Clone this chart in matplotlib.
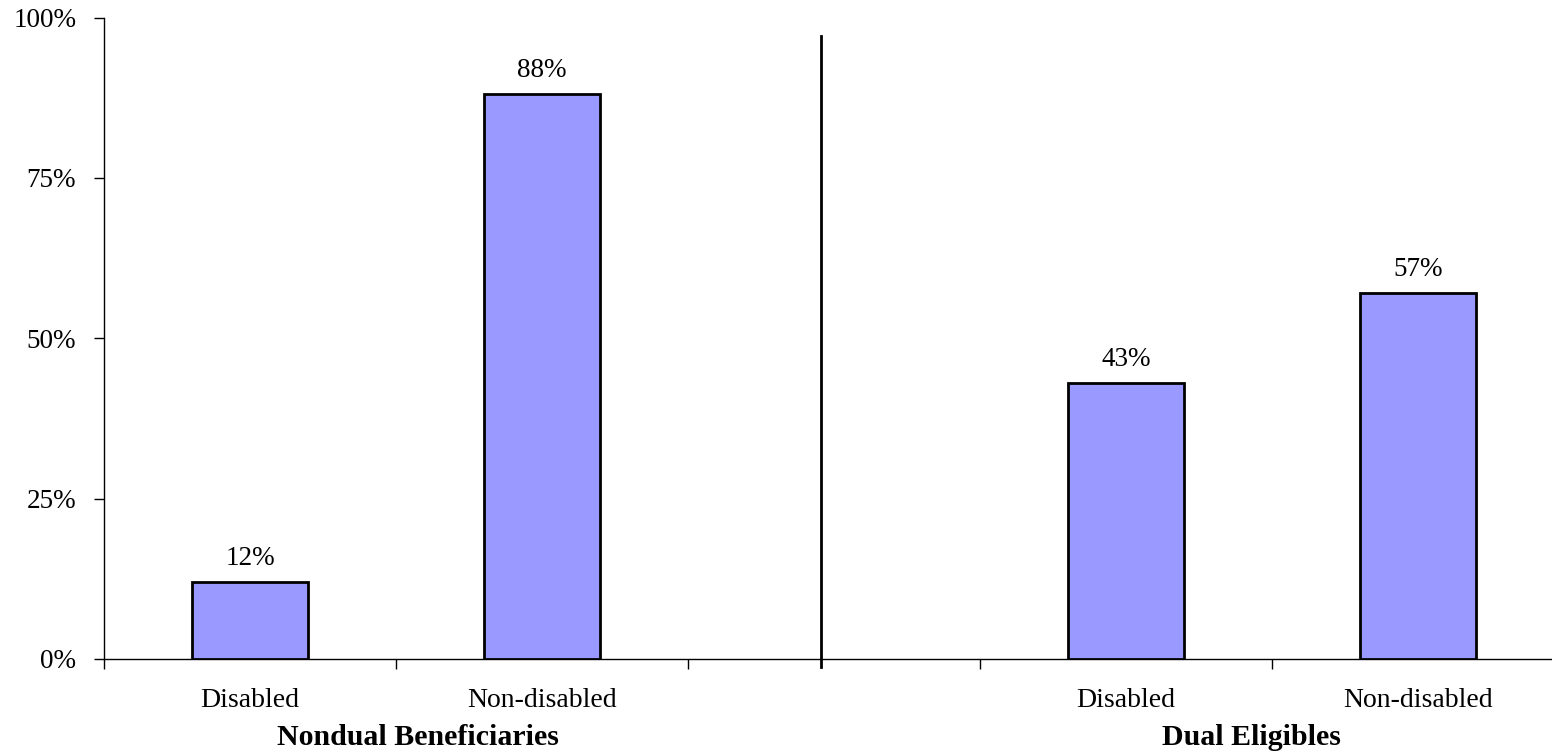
import matplotlib
matplotlib.use("Agg")
import matplotlib.pyplot as plt
import numpy as np

# Data
tick_labels = ["Disabled", "Non-disabled", "", "Disabled", "Non-disabled"]
values = [12, 88, np.nan, 43, 57]
group_labels = ["Nondual Beneficiaries", "Dual Eligibles"]
group_label_x = [0.575, 3.43]
divider_x = 1.955
y_ticks = [0, 25, 50, 75, 100]

plt.rcParams['font.family'] = ['Liberation Serif', 'DejaVu Serif']

fig = plt.figure(figsize=(15.52, 7.56), dpi=100)
ax = fig.add_axes([104 / 1552, 1 - 659 / 756, 1460 / 1552, (659 - 17.5) / 756])

x = np.arange(len(tick_labels))
vals = np.array(values, dtype=float)
mask = ~np.isnan(vals)
bars = ax.bar(x[mask], vals[mask], width=0.4, color="#9999FF",
              edgecolor="black", linewidth=2.0, zorder=3)
for xi, v in zip(x[mask], vals[mask]):
    ax.annotate(f"{v:.0f}%", (xi, v), xytext=(0, 8), textcoords="offset points",
                ha="center", va="bottom", fontsize=19.5)

ax.set_xlim(-0.5, len(tick_labels) - 0.5)
ax.set_ylim(0, 100)
ax.set_yticks(y_ticks)
ax.set_yticklabels([f"{t}%" for t in y_ticks], fontsize=19.5)
ax.tick_params(axis="y", direction="out", length=7, width=1, pad=13)

ax.set_xticks(x)
ax.set_xticklabels(tick_labels, fontsize=20)
ax.tick_params(axis="x", which="major", length=0, pad=21)
ax.set_xticks(np.arange(-0.5, len(tick_labels) + 0.5, 1), minor=True)
ax.tick_params(axis="x", which="minor", direction="out", length=7, width=1)

for s in ["top", "right"]:
    ax.spines[s].set_visible(False)
for s in ["left", "bottom"]:
    ax.spines[s].set_linewidth(1)
    ax.spines[s].set_color("black")

ax.axvline(divider_x, ymin=-0.0125, ymax=0.971, color="black", lw=2, clip_on=False)

for gx, gl in zip(group_label_x, group_labels):
    ax.text(gx, -0.122, gl, transform=ax.get_xaxis_transform(), ha="center",
            va="center", fontsize=21.5, fontweight="bold")

fig.savefig("out.png", dpi=100)
